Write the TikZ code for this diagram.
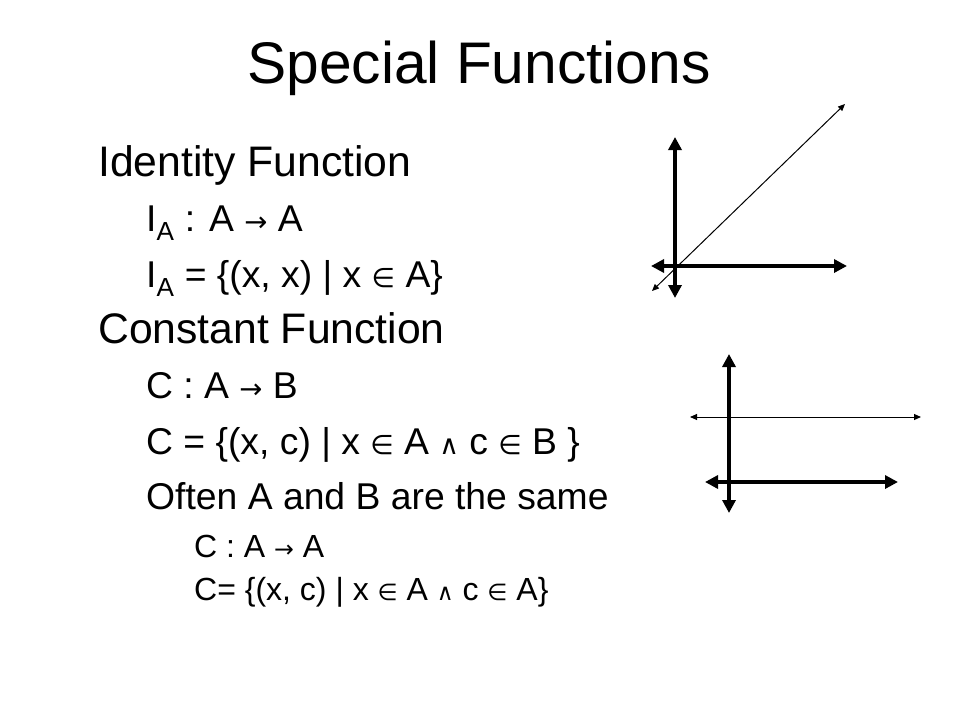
\documentclass[tikz,border=0pt]{standalone}
\usepackage{fontspec}
\setmainfont{Liberation Sans}
\newfontfamily\symfont{DejaVu Sans}
\usetikzlibrary{arrows.meta}
\usetikzlibrary{positioning}

\newcommand{\elem}{\scalebox{0.72}{\symfont ∈}}
\newcommand{\andsym}{\scalebox{0.72}{\symfont ∧}}
\newcommand{\mapto}{\scalebox{0.74}{\symfont →}}

\begin{document}
\begin{tikzpicture}
	[x=1pt,y=-1pt,
	every node/.style={inner sep=0pt,anchor=base west},
	heading/.style={font=\fontsize{58.7}{70}\selectfont},
	levelone/.style={font=\fontsize{42.7}{50}\selectfont},
	leveltwo/.style={font=\fontsize{37.3}{44}\selectfont},
	levelthree/.style={font=\fontsize{32}{38}\selectfont},
	bigaxis/.style={line width=4pt,{Triangle[length=13pt,width=13pt]}-{Triangle[length=13pt,width=13pt]}},
	fineline/.style={line width=1pt,{Triangle[length=7pt,width=6pt]}-{Triangle[length=7pt,width=6pt]}}]
	\useasboundingbox (0,0) rectangle (960,720);
	\node (title) [heading,anchor=base] at (479,83) {Special Functions};
	% identity function
	\node (idfun) [levelone] at (98,176) {Identity Function};
	\node (idmap) [leveltwo] at (146,231) {I\textsubscript{A} : A \mapto{} A};
	\node (idset) [leveltwo] at (146,287) {I\textsubscript{A} = \{(x, x) | x \elem{} A\}};
	% constant function
	\node (constfun) [levelone] at (98,343) {Constant Function};
	\node (constmap) [leveltwo] at (146,398) {C : A \mapto{} B};
	\node (constset) [leveltwo] at (146,454) {C = \{(x, c) | x \elem{} A \andsym{} c \elem{} B \}};
	\node (often) [leveltwo] at (146,509) {Often A and B are the same};
	\node (samemap) [levelthree] at (194,557) {C : A \mapto{} A};
	\node (sameset) [levelthree] at (194,600) {C= \{(x, c) | x \elem{} A \andsym{} c \elem{} A\}};
	% graph of the identity
	\coordinate (idtop) at (675,137);
	\coordinate (idbot) at (675,298);
	\coordinate (idleft) at (651,266);
	\coordinate (idright) at (847,266);
	\coordinate (diagfrom) at (652,291);
	\coordinate (diagto) at (845,104);
	\draw[bigaxis] (idbot) -- (idtop);
	\draw[bigaxis] (idleft) -- (idright);
	\draw[fineline] (diagfrom) -- (diagto);
	% graph of a constant
	\coordinate (cntop) at (729,354);
	\coordinate (cnbot) at (729,513);
	\coordinate (cnleft) at (705,482);
	\coordinate (cnright) at (898,482);
	\coordinate (flatfrom) at (690,417);
	\coordinate (flatto) at (921,417);
	\draw[bigaxis] (cnbot) -- (cntop);
	\draw[bigaxis] (cnleft) -- (cnright);
	\draw[fineline] (flatfrom) -- (flatto);
\end{tikzpicture}
\end{document}
